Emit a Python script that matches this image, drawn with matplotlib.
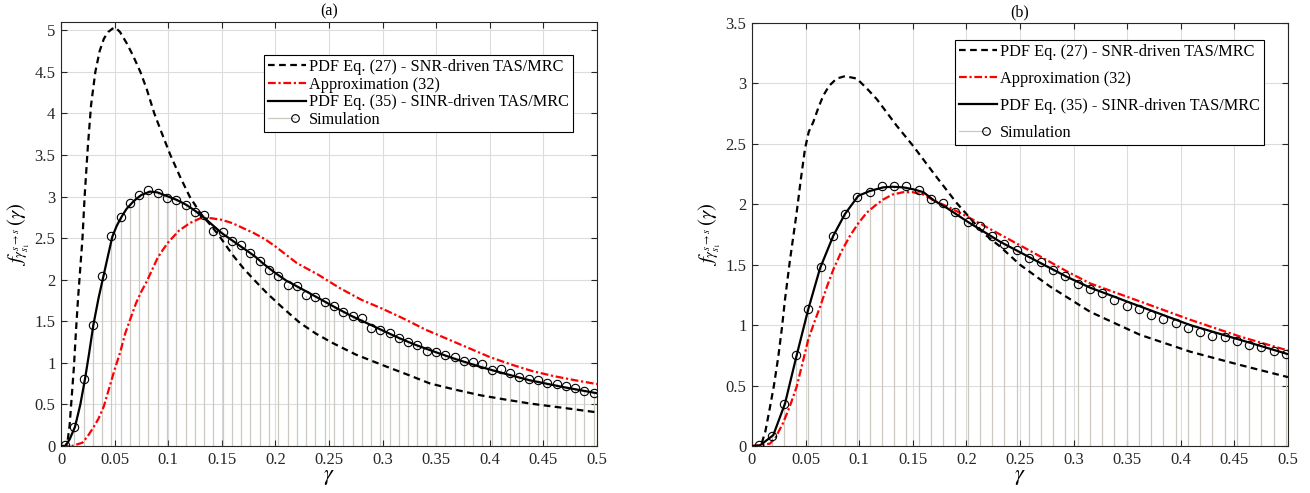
import numpy as np
import matplotlib
matplotlib.use("Agg")
import matplotlib.pyplot as plt
from matplotlib.lines import Line2D
from matplotlib.legend_handler import HandlerBase
from matplotlib.ticker import FormatStrFormatter, MultipleLocator

plt.rcParams["font.family"] = ["Liberation Serif", "DejaVu Serif"]
plt.rcParams["mathtext.fontset"] = "stix"

# ---------- panel (a) ----------
a_snr_x = [0.0, 0.004, 0.006, 0.008, 0.010, 0.012, 0.014, 0.016, 0.018, 0.020,
           0.022, 0.025, 0.028, 0.032, 0.036, 0.040, 0.044, 0.048, 0.051, 0.055,
           0.061, 0.067, 0.074, 0.080, 0.087, 0.095, 0.102, 0.111, 0.120, 0.130,
           0.140, 0.148, 0.160, 0.170, 0.180, 0.192, 0.207, 0.223, 0.238, 0.254,
           0.275, 0.304, 0.325, 0.344, 0.367, 0.391, 0.414, 0.4375, 0.468, 0.5]
a_snr_y = [0.0, 0.0, 0.05, 0.25, 0.6, 0.95, 1.4, 1.8, 2.15, 2.5,
           3.0, 3.6, 4.1, 4.5, 4.75, 4.9, 4.98, 5.02, 5.03, 4.98,
           4.85, 4.7, 4.5, 4.29, 4.0, 3.73, 3.5, 3.24, 3.0, 2.8,
           2.65, 2.52, 2.30, 2.14, 2.0, 1.84, 1.66, 1.48, 1.35, 1.235,
           1.1, 0.953, 0.85, 0.753, 0.68, 0.611, 0.56, 0.511, 0.46, 0.405]

a_apx_x = [0.0, 0.01, 0.015, 0.02, 0.025, 0.03, 0.035, 0.04, 0.045, 0.05,
           0.055, 0.06, 0.065, 0.07, 0.075, 0.08, 0.085, 0.09, 0.095, 0.1,
           0.11, 0.12, 0.13, 0.14, 0.15, 0.16, 0.17, 0.18, 0.19, 0.2,
           0.22, 0.24, 0.26, 0.28, 0.3, 0.32, 0.34, 0.36, 0.38, 0.4,
           0.42, 0.44, 0.46, 0.48, 0.5]
a_apx_y = [0.0, 0.0, 0.02, 0.04, 0.12, 0.22, 0.33, 0.48, 0.70, 0.92,
           1.12, 1.36, 1.54, 1.72, 1.86, 1.98, 2.12, 2.26, 2.36, 2.45,
           2.59, 2.68, 2.74, 2.74, 2.72, 2.68, 2.62, 2.56, 2.49, 2.40,
           2.20, 2.06, 1.90, 1.76, 1.65, 1.53, 1.40, 1.29, 1.18, 1.07,
           0.98, 0.90, 0.84, 0.79, 0.745]

a_sinr_x = [0.0, 0.004, 0.008, 0.013, 0.018, 0.0224, 0.026, 0.0302, 0.035, 0.0395,
            0.044, 0.0479, 0.052, 0.0566, 0.061, 0.0659, 0.07, 0.075, 0.083, 0.09,
            0.1, 0.108, 0.117, 0.125, 0.134, 0.142, 0.15, 0.16, 0.17, 0.18,
            0.19, 0.2, 0.21, 0.223, 0.24, 0.254, 0.27, 0.285, 0.3, 0.316,
            0.33, 0.344, 0.367, 0.391, 0.414, 0.4375, 0.468, 0.5]
a_sinr_y = [0.0, 0.0, 0.08, 0.23, 0.5, 0.81, 1.1, 1.46, 1.78, 2.04,
            2.3, 2.52, 2.65, 2.76, 2.85, 2.92, 2.97, 3.02, 3.06, 3.05,
            3.0, 2.96, 2.90, 2.83, 2.74, 2.65, 2.56, 2.47, 2.38, 2.29,
            2.18, 2.08, 1.99, 1.90, 1.78, 1.68, 1.57, 1.48, 1.39, 1.295,
            1.22, 1.154, 1.05, 0.953, 0.87, 0.79, 0.71, 0.635]

# simulation: 58 evenly spaced histogram points
a_sim_x = np.linspace(0.0037, 0.4969, 58)
a_sim_y = [0.01, 0.23, 0.81, 1.46, 2.04, 2.52, 2.76, 2.92, 3.02, 3.08,
           3.04, 2.98, 2.96, 2.90, 2.81, 2.78, 2.59, 2.58, 2.47, 2.42,
           2.32, 2.23, 2.12, 2.05, 1.94, 1.92, 1.82, 1.79, 1.73, 1.69,
           1.61, 1.56, 1.54, 1.42, 1.39, 1.36, 1.30, 1.25, 1.215, 1.146,
           1.13, 1.10, 1.066, 1.02, 1.01, 0.985, 0.92, 0.925, 0.88, 0.83,
           0.81, 0.79, 0.76, 0.745, 0.72, 0.70, 0.66, 0.64]

# ---------- panel (b) ----------
b_snr_x = [0.0, 0.006, 0.009, 0.0125, 0.0168, 0.0205, 0.0246, 0.028, 0.0308, 0.0355,
           0.0417, 0.0455, 0.0495, 0.053, 0.0572, 0.062, 0.0666, 0.072, 0.079, 0.0868,
           0.0977, 0.107, 0.1164, 0.135, 0.1506, 0.1692, 0.191, 0.216, 0.2315, 0.25,
           0.278, 0.3155, 0.362, 0.409, 0.4555, 0.5]
b_snr_y = [0.0, 0.0, 0.02, 0.12, 0.32, 0.5, 0.74, 0.98, 1.21, 1.54,
           1.93, 2.2, 2.46, 2.6, 2.68, 2.80, 2.90, 2.98, 3.04, 3.06,
           3.04, 2.96, 2.87, 2.65, 2.48, 2.26, 2.01, 1.76, 1.65, 1.50,
           1.32, 1.11, 0.92, 0.78, 0.67, 0.57]

b_apx_x = [0.0, 0.0075, 0.0168, 0.022, 0.029, 0.035, 0.0417, 0.047, 0.0525, 0.058,
           0.0635, 0.07, 0.0759, 0.0835, 0.0915, 0.099, 0.107, 0.115, 0.1225, 0.131,
           0.141, 0.15, 0.16, 0.17, 0.185, 0.2004, 0.2315, 0.2625, 0.2937, 0.3155,
           0.362, 0.409, 0.4555, 0.5]
b_apx_y = [0.0, 0.005, 0.02, 0.07, 0.19, 0.32, 0.49, 0.68, 0.88, 1.02,
           1.15, 1.32, 1.46, 1.61, 1.74, 1.84, 1.93, 1.99, 2.04, 2.08,
           2.10, 2.10, 2.08, 2.03, 1.97, 1.90, 1.75, 1.60, 1.445, 1.345,
           1.196, 1.044, 0.905, 0.79]

b_sinr_x = [0.0, 0.0075, 0.0199, 0.0308, 0.0417, 0.0525, 0.0635, 0.0759, 0.0868, 0.0992,
            0.110, 0.1225, 0.131, 0.141, 0.150, 0.160, 0.170, 0.1817, 0.2004, 0.2315,
            0.2625, 0.2937, 0.3155, 0.362, 0.409, 0.4555, 0.5]
b_sinr_y = [0.0, 0.005, 0.09, 0.35, 0.75, 1.13, 1.47, 1.74, 1.92, 2.07,
            2.11, 2.14, 2.145, 2.14, 2.125, 2.10, 2.03, 1.97, 1.86, 1.69,
            1.545, 1.40, 1.31, 1.155, 1.0, 0.878, 0.76]

# simulation: 44 evenly spaced histogram points
b_sim_x = np.linspace(0.007, 0.498, 44)
b_sim_y = [0.006, 0.08, 0.35, 0.75, 1.13, 1.48, 1.74, 1.92, 2.06, 2.10,
           2.15, 2.15, 2.15, 2.115, 2.04, 2.01, 1.94, 1.855, 1.82, 1.74,
           1.675, 1.62, 1.556, 1.52, 1.46, 1.41, 1.34, 1.30, 1.266, 1.21,
           1.16, 1.13, 1.085, 1.05, 1.017, 0.98, 0.947, 0.91, 0.905, 0.872,
           0.836, 0.822, 0.787, 0.76]

labels = [
    "PDF Eq. (27) - SNR-driven TAS/MRC",
    "Approximation (32)",
    "PDF Eq. (35) - SINR-driven TAS/MRC",
    "Simulation",
]

STEM_COLOR = "#cdc9c2"
AX_COLOR = "#262626"


class StemHandler(HandlerBase):
    # MATLAB-like stem legend entry: thin line with the marker near the right end
    def create_artists(self, legend, orig_handle, xdescent, ydescent,
                       width, height, fontsize, trans):
        y = height / 2.0 - ydescent
        line = Line2D([-xdescent, width * 0.72 - xdescent], [y, y],
                      color=STEM_COLOR, lw=0.9, transform=trans)
        mk = Line2D([width * 0.72 - xdescent], [y], marker="o", ms=5.5,
                    mfc="none", mec="k", mew=0.8, ls="none", transform=trans)
        return [line, mk]


def draw_panel(ax, snr, apx, sinr, sim, ymax, title, leg_anchor, leg_spacing):
    ax.plot(snr[0], snr[1], color="k", lw=1.6, ls=(0, (3, 2)), zorder=3)
    ax.plot(apx[0], apx[1], color="r", lw=1.6, ls=(0, (3.5, 1.2, 1, 1.2)), zorder=3)
    ax.plot(sinr[0], sinr[1], color="k", lw=1.6, zorder=4)
    ax.vlines(sim[0], 0, sim[1], color=STEM_COLOR, lw=0.9, zorder=2)
    ax.plot(sim[0], sim[1], "o", ms=6, mfc="none", mec="k", mew=0.8, zorder=5)

    ax.set_xlim(0, 0.5)
    ax.set_ylim(0, ymax)
    ax.xaxis.set_major_locator(MultipleLocator(0.05))
    ax.yaxis.set_major_locator(MultipleLocator(0.5))
    ax.xaxis.set_major_formatter(FormatStrFormatter("%g"))
    ax.yaxis.set_major_formatter(FormatStrFormatter("%g"))
    ax.grid(True, color="#dcdcdc", lw=0.8)
    ax.set_axisbelow(True)
    ax.tick_params(direction="in", top=True, right=True, length=4,
                   labelsize=12, colors=AX_COLOR, width=0.8, pad=4)
    for s in ax.spines.values():
        s.set_color(AX_COLOR)
        s.set_linewidth(0.8)

    ax.set_xlabel(r"$\gamma$", fontsize=16, labelpad=0)
    ax.set_ylabel(r"$f_{\gamma_{s_1}^{s\to s}}\,(\gamma)$", fontsize=15, labelpad=2)
    ax.set_title(title, fontsize=11.5, pad=5)

    handles = [
        Line2D([], [], color="k", lw=1.6, ls=(0, (3, 2))),
        Line2D([], [], color="r", lw=1.6, ls=(0, (3.5, 1.2, 1, 1.2))),
        Line2D([], [], color="k", lw=1.6),
        Line2D([], [], color=STEM_COLOR),
    ]
    leg = ax.legend(handles, labels, loc="upper right", bbox_to_anchor=leg_anchor,
                    fontsize=11.7, handlelength=2.3, handletextpad=0.2,
                    labelspacing=leg_spacing, borderpad=0.25, borderaxespad=0,
                    fancybox=False, framealpha=1, edgecolor="k",
                    handler_map={handles[3]: StemHandler()})
    leg.get_frame().set_linewidth(0.8)


fig = plt.figure(figsize=(13.1, 4.93), dpi=100)
ax_a = fig.add_axes([0.0466, 0.0953, 0.4091, 0.8601])
ax_b = fig.add_axes([0.5740, 0.0953, 0.4092, 0.8581])

draw_panel(ax_a, (a_snr_x, a_snr_y), (a_apx_x, a_apx_y), (a_sinr_x, a_sinr_y),
           (a_sim_x, a_sim_y), 5.1, "(a)", (0.955, 0.922), 0.1)
draw_panel(ax_b, (b_snr_x, b_snr_y), (b_apx_x, b_apx_y), (b_sinr_x, b_sinr_y),
           (b_sim_x, b_sim_y), 3.5, "(b)", (0.955, 0.96), 0.68)

fig.savefig("out.png", dpi=100)
